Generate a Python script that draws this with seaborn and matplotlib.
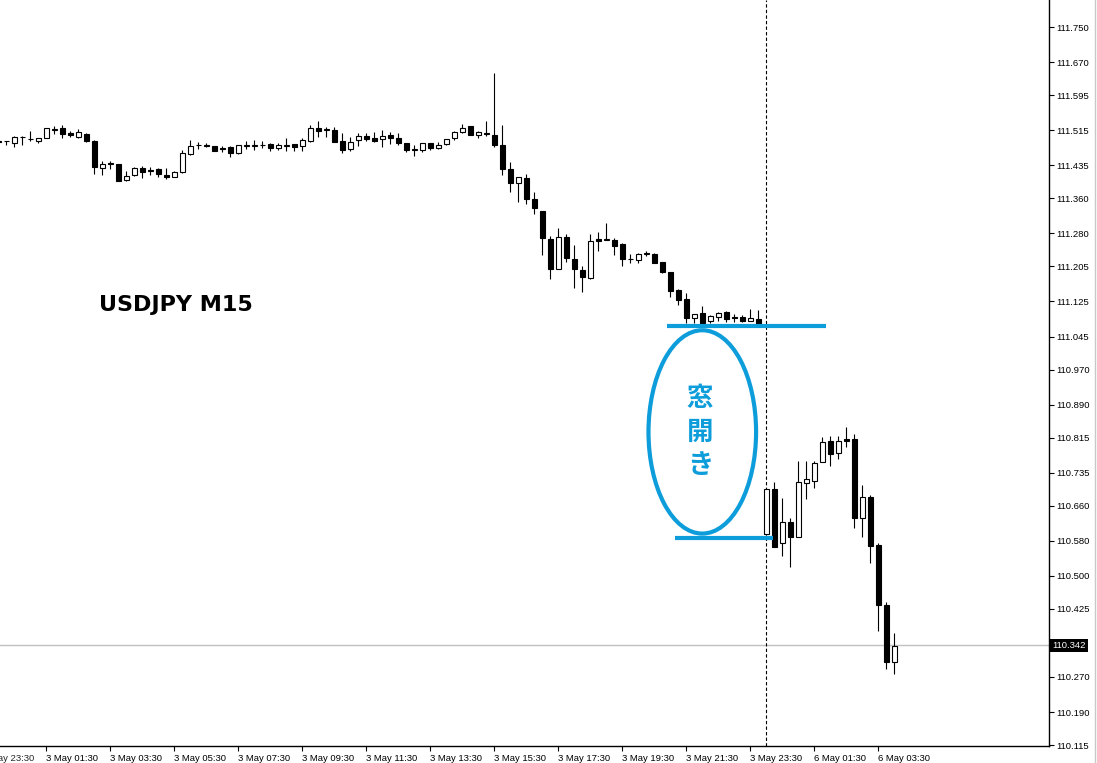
import matplotlib
matplotlib.use("Agg")
import matplotlib.pyplot as plt
import matplotlib.transforms as mtransforms
from matplotlib.patches import Ellipse
from matplotlib.lines import Line2D
import seaborn as sns
import numpy as np
import pandas as pd

# USDJPY M15 candles, 3 May 00:00 -> 3 May 23:45, then 6 May 00:00 -> 04:00
opens = [111.490, 111.491, 111.485, 111.499, 111.496, 111.491, 111.498, 111.516, 111.521, 111.509,
         111.500, 111.507, 111.490, 111.430, 111.440, 111.437, 111.402, 111.413, 111.428, 111.425,
         111.426, 111.413, 111.408, 111.420, 111.460, 111.481, 111.482, 111.478, 111.474, 111.476,
         111.462, 111.480, 111.480, 111.481, 111.483, 111.475, 111.480, 111.483, 111.478, 111.491,
         111.519, 111.516, 111.515, 111.490, 111.472, 111.493, 111.502, 111.497, 111.494, 111.504,
         111.497, 111.487, 111.471, 111.470, 111.485, 111.474, 111.483, 111.497, 111.512, 111.525,
         111.503, 111.507, 111.504, 111.481, 111.427, 111.394, 111.406, 111.358, 111.331, 111.267,
         111.198, 111.271, 111.221, 111.197, 111.178, 111.267, 111.266, 111.265, 111.256, 111.222,
         111.219, 111.234, 111.233, 111.214, 111.191, 111.151, 111.130, 111.087, 111.098, 111.081,
         111.090, 111.100, 111.089, 111.090, 111.081, 111.084,
         110.595, 110.697, 110.574, 110.622, 110.589, 110.711, 110.717, 110.759, 110.808, 110.779,
         110.811, 110.813, 110.631, 110.679, 110.570, 110.435, 110.303]
highs = [111.492, 111.491, 111.501, 111.501, 111.513, 111.498, 111.520, 111.525, 111.526, 111.513,
         111.517, 111.509, 111.492, 111.444, 111.444, 111.437, 111.421, 111.431, 111.433, 111.431,
         111.430, 111.428, 111.421, 111.471, 111.492, 111.488, 111.485, 111.479, 111.479, 111.478,
         111.482, 111.490, 111.492, 111.491, 111.486, 111.486, 111.497, 111.483, 111.497, 111.527,
         111.536, 111.522, 111.522, 111.508, 111.500, 111.508, 111.509, 111.512, 111.515, 111.512,
         111.508, 111.487, 111.481, 111.487, 111.487, 111.488, 111.494, 111.513, 111.529, 111.525,
         111.514, 111.536, 111.645, 111.527, 111.443, 111.408, 111.415, 111.374, 111.331, 111.273,
         111.292, 111.279, 111.254, 111.206, 111.279, 111.283, 111.303, 111.269, 111.259, 111.232,
         111.235, 111.241, 111.235, 111.215, 111.191, 111.153, 111.145, 111.096, 111.115, 111.094,
         111.102, 111.104, 111.096, 111.094, 111.109, 111.106,
         110.699, 110.715, 110.677, 110.631, 110.762, 110.762, 110.762, 110.816, 110.819, 110.819,
         110.839, 110.823, 110.707, 110.684, 110.576, 110.441, 110.369]
lows = [111.486, 111.481, 111.477, 111.481, 111.491, 111.486, 111.497, 111.506, 111.497, 111.500,
        111.498, 111.488, 111.416, 111.412, 111.426, 111.399, 111.399, 111.410, 111.407, 111.413,
        111.408, 111.404, 111.408, 111.417, 111.458, 111.473, 111.477, 111.467, 111.465, 111.455,
        111.461, 111.473, 111.471, 111.474, 111.468, 111.471, 111.468, 111.468, 111.468, 111.489,
        111.499, 111.500, 111.489, 111.463, 111.468, 111.479, 111.491, 111.489, 111.476, 111.484,
        111.481, 111.466, 111.456, 111.466, 111.470, 111.472, 111.481, 111.492, 111.509, 111.503,
        111.497, 111.501, 111.477, 111.413, 111.375, 111.352, 111.347, 111.324, 111.231, 111.176,
        111.198, 111.214, 111.155, 111.147, 111.176, 111.241, 111.265, 111.231, 111.206, 111.212,
        111.213, 111.229, 111.213, 111.190, 111.135, 111.117, 111.077, 111.075, 111.075, 111.075,
        111.081, 111.079, 111.079, 111.079, 111.081, 111.074,
        110.594, 110.567, 110.546, 110.520, 110.589, 110.675, 110.701, 110.759, 110.751, 110.766,
        110.794, 110.609, 110.589, 110.530, 110.375, 110.288, 110.277]
closes = [111.488, 111.490, 111.500, 111.500, 111.495, 111.498, 111.519, 111.517, 111.507, 111.503,
          111.510, 111.491, 111.431, 111.439, 111.437, 111.400, 111.411, 111.429, 111.420, 111.422,
          111.416, 111.408, 111.420, 111.462, 111.480, 111.482, 111.478, 111.468, 111.473, 111.463,
          111.482, 111.481, 111.481, 111.482, 111.474, 111.481, 111.481, 111.477, 111.492, 111.519,
          111.514, 111.517, 111.489, 111.470, 111.489, 111.502, 111.494, 111.491, 111.502, 111.497,
          111.487, 111.470, 111.472, 111.486, 111.474, 111.481, 111.494, 111.510, 111.521, 111.504,
          111.510, 111.508, 111.481, 111.426, 111.395, 111.408, 111.358, 111.337, 111.269, 111.198,
          111.271, 111.223, 111.198, 111.180, 111.263, 111.263, 111.267, 111.252, 111.221, 111.221,
          111.233, 111.235, 111.213, 111.191, 111.150, 111.128, 111.087, 111.096, 111.077, 111.093,
          111.099, 111.084, 111.088, 111.081, 111.087, 111.074,
          110.697, 110.567, 110.622, 110.588, 110.713, 110.720, 110.757, 110.806, 110.777, 110.808,
          110.808, 110.631, 110.679, 110.569, 110.435, 110.303, 110.341]

friday_start = "2019-05-03 00:00"
monday_start = "2019-05-06 00:00"
bid = 110.342
ytick_vals = [111.750, 111.670, 111.595, 111.515, 111.435, 111.360, 111.280, 111.205, 111.125,
              111.045, 110.970, 110.890, 110.815, 110.735, 110.660, 110.580, 110.500, 110.425,
              110.270, 110.190, 110.115]

# annotation drawn over the gap
gap_top = 111.069
gap_bottom = 110.587
BLUE = "#0E9DDB"

sns.set_style("white")
plt.rcParams["font.family"] = ["Liberation Sans", "Noto Sans CJK JP", "DejaVu Sans"]

n_fri = 96
bar_times = list(pd.date_range(friday_start, periods=n_fri, freq="15min")) + \
    list(pd.date_range(monday_start, periods=len(opens) - n_fri, freq="15min"))
df = pd.DataFrame({"time": bar_times, "open": opens, "high": highs, "low": lows, "close": closes})
df["x"] = np.arange(1, len(df) + 1)
df["up"] = df["close"] > df["open"]

fig = plt.figure(figsize=(10.97, 7.63), dpi=100)
ax = fig.add_axes([0, 17 / 763, 1049 / 1097, 746 / 763])

# wicks + bodies
ax.vlines(df["x"], df["low"], df["high"], color="black", lw=0.8, zorder=2)
body = (df["close"] - df["open"]).abs().clip(lower=0.0004)
ax.bar(df["x"], body, bottom=np.minimum(df["open"], df["close"]), width=0.6,
       color=np.where(df["up"], "white", "black"), edgecolor="black", linewidth=0.8, zorder=3)

# bid line and day separator
ax.axhline(bid, color="#C0C0C0", lw=1, zorder=1)
sep_x = df.loc[df["time"].dt.day != df["time"].iloc[0].day, "x"].iloc[0]
ax.axvline(sep_x, color="black", lw=0.8, ls=(0, (3, 2)), zorder=1)

ax.set_xlim(1.2125, 132.34)
ax.set_ylim(110.1128, 111.8115)

# time axis labels every 2 hours at :30
tick_rows = df[(df["time"].dt.minute == 30) & (df["time"].dt.hour % 2 == 1)]
fmt = lambda t: f"{t.day} {t.strftime('%b %H:%M')}"
ax.set_xticks(tick_rows["x"])
ax.set_xticklabels([fmt(t) for t in tick_rows["time"]], ha="left")
ax.yaxis.tick_right()
ax.set_yticks(ytick_vals)
ax.set_yticklabels([f"{v:.3f}" for v in ytick_vals])
ax.tick_params(axis="x", bottom=True, direction="out", length=3.5, width=0.8, pad=2,
               labelsize=6.8, colors="black")
ax.tick_params(axis="y", right=True, left=False, labelright=True, labelleft=False,
               direction="out", length=3.5, width=0.8, pad=1.5, labelsize=6.8, colors="black")
for s in ["left", "top"]:
    ax.spines[s].set_visible(False)
for s in ["right", "bottom"]:
    ax.spines[s].set_color("black")
    ax.spines[s].set_linewidth(1)

# cut-off label on the left edge
prev_t = df["time"].iloc[0] - pd.Timedelta(minutes=30)
lbl_tr = mtransforms.offset_copy(ax.get_xaxis_transform(), fig=fig, y=-5.5, units="points")
ax.text(df["x"].iloc[0] - 2, 0, fmt(prev_t), transform=lbl_tr, ha="left", va="top", fontsize=6.8)

# bid price box
ax.text(1.003, bid, f"{bid:.3f}", transform=ax.get_yaxis_transform(), ha="left", va="center",
        fontsize=6.8, color="white", bbox=dict(facecolor="black", edgecolor="none", pad=1.4),
        clip_on=False)

# annotations
ax.text(0.168, 0.591, "USDJPY M15", transform=ax.transAxes, ha="center", va="center",
        fontsize=16, fontweight="bold", family="DejaVu Sans", color="black")
ax.plot([84.55, 104.46], [gap_top, gap_top], color=BLUE, lw=3, solid_capstyle="butt", zorder=4)
ax.plot([85.59, 97.87], [gap_bottom, gap_bottom], color=BLUE, lw=3, solid_capstyle="butt", zorder=4)
mid = (gap_top + gap_bottom) / 2
ax.add_patch(Ellipse((89.0, mid), width=13.45, height=0.463, fill=False, edgecolor=BLUE, lw=3, zorder=4))
ax.text(88.7, mid, "窓\n開\nき", ha="center", va="center", fontsize=19, fontweight="bold",
        color=BLUE, family=["Noto Sans CJK JP"], linespacing=1.3, zorder=5)

fig.add_artist(Line2D([1094.5 / 1097] * 2, [0, 1], transform=fig.transFigure, color="#C8C8C8", lw=1))

fig.savefig("out.png", dpi=100)
